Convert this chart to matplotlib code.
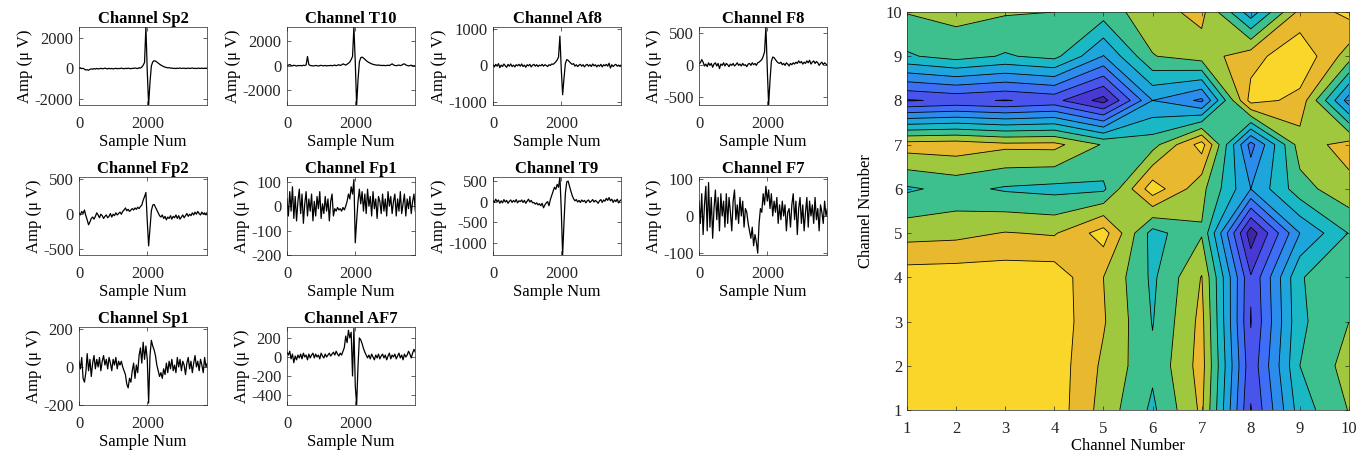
import matplotlib
matplotlib.use("Agg")
import matplotlib.pyplot as plt
import numpy as np

plt.rcParams['font.family'] = ['Liberation Serif', 'DejaVu Serif']
plt.rcParams['font.size'] = 12
plt.rcParams['axes.unicode_minus'] = False

# EEG traces, one value every 40 samples (uV)
sample_step = 40
channel_names = ['Sp2', 'T10', 'Af8', 'F8', 'Fp2', 'Fp1', 'T9', 'F7', 'Sp1', 'AF7']

sp2 = [10, 30, -20, 0, -60, -110, -90, -130, -70, -40,
       -60, -20, -50, -10, -40, -30, 0, -30, -20, 10,
       -20, -40, 0, -30, -10, -40, -20, 0, -30, -10,
       -20, 10, -10, -30, 0, -20, 10, -10, -30, 0,
       -10, 20, 0, -20, 40, 10, 80, 200, 380, 2700,
       -200, -2400, -900, 150, 420, 500, 470, 410, 340, 270,
       210, 160, 110, 80, 50, 30, 40, 10, 20, -10,
       0, -20, 10, -10, 20, -10, 0, 10, -20, 0,
       10, -10, 0, 20, -10, 0, -20, 10, 0, -10,
       10, -10, 0, 10, -10]
t10 = [0, 40, 100, 20, -20, 40, 10, -30, 20, 0,
       20, -10, 40, 10, 60, 750, 80, 20, 0, -20,
       -10, 20, 0, -30, 10, 30, -10, 0, 20, -20,
       10, 0, 30, -10, 20, 50, 0, 40, 80, 20,
       60, 150, 100, 50, 120, 200, 300, 500, 750, 3150,
       300, -3200, -1200, 300, 650, 700, 620, 520, 420, 330,
       260, 200, 150, 110, 80, 60, 40, 60, 20, 30,
       10, 30, 0, 20, 40, 10, 80, 150, 60, 20,
       0, 30, 50, 10, 40, 120, 150, 60, 20, -20,
       10, 40, 0, -30, 20]
af8 = [20, -40, 30, -20, 50, -60, 10, -30, 40, -10,
       -50, 30, -20, 40, -30, 10, -40, 20, -10, 30,
       -20, 40, -30, 10, -50, 20, -10, 30, -40, 10,
       30, -20, 20, -30, 10, -10, 30, -20, 20, 0,
       -30, 20, 0, 40, 30, 60, 100, 150, 230, 800,
       -100, -800, -350, 50, 160, 140, 100, 60, 30, 50,
       -20, 20, -30, 10, 30, -20, 20, -40, 10, 30,
       -20, 20, -30, 40, -10, 20, -40, 10, -20, 30,
       -40, 20, -10, 30, -20, 60, -70, 20, -30, 10,
       30, -20, 10, -30, 20]
f8 = [20, 30, 80, 40, -20, 10, -30, 30, -10, 20,
      -40, 10, 30, -20, 20, -60, 10, -10, 30, -20,
      20, 0, -30, 10, -10, 20, -20, 0, 30, -10,
      10, -20, 20, -10, 0, -30, 10, 20, -10, 30,
      0, 20, -10, 30, 40, 60, 80, 130, 200, 590,
      -60, -630, -250, 50, 120, 110, 80, 50, 30, 20,
      40, 0, 20, -10, 30, 10, -20, 20, 0, 30,
      10, 40, 20, 60, 30, 50, 10, 40, 20, 60,
      30, 70, 10, 40, 60, 20, 50, 30, -10, 20,
      40, 0, 30, 10, -10]
fp2 = [20, -10, 40, 10, 60, -20, -80, -150, -110, -60,
       -40, -70, -30, 20, -10, -50, 0, -20, -60, -30,
       -10, -50, -30, 10, -40, 0, -20, 20, -10, 10,
       30, 0, 40, 60, 90, 50, 70, 40, 60, 80,
       60, 90, 70, 100, 80, 110, 130, 200, 250, 310,
       -100, -450, -200, 50, 130, 140, 100, 60, 20, -20,
       -40, -10, -60, -30, -80, -40, -60, -20, -70, -30,
       -50, -10, -60, -20, -70, -40, -10, -50, -20, 10,
       -30, 0, -20, 20, -10, 30, 0, 40, 10, -10,
       30, 0, 20, -10, 30]
fp1 = [30, -40, 60, -20, 80, -50, 40, -60, 20, 70,
       -30, 50, -70, 10, 60, -40, 30, -20, 50, -60,
       20, -40, 40, -10, 60, -50, 10, -30, 40, -20,
       30, -60, 20, 50, -40, -10, -20, -5, -15, -10,
       -20, -5, -15, 0, 20, 50, 30, 80, 50, 110,
       -150, -60, 20, 70, 10, 60, -20, 50, -30, 70,
       0, 40, -40, 60, -10, 30, -50, 40, 20, -30,
       50, -20, 30, -40, 60, 0, 40, -30, 20, 50,
       -40, 30, -20, 60, -30, 10, 50, -40, 30, -10,
       40, -30, 20, 50, -20]
t9 = [30, -20, 60, 0, 40, -40, 20, -30, 50, -10,
      30, -40, 10, 40, -20, 30, -10, 50, -30, 20,
      0, 40, -20, 30, -40, 10, 60, -10, 30, -30,
      -20, -60, -30, -80, -50, -100, -40, -150, -80, -30,
      0, -100, 50, 150, 250, 350, 300, 420, 350, 600,
      -200, -1300, -500, 200, 480, 500, 380, 260, 150, 70,
      20, 50, -10, 30, -20, 40, 0, 30, -30, 20,
      40, -20, 10, 50, -10, 30, 0, -40, 20, 50,
      -20, 40, 10, 80, 30, 100, 20, 60, -20, 40,
      0, 60, -30, 20, 50]
f7 = [40, -20, 60, -50, 30, 80, -40, 90, -30, 50,
      -60, 20, 70, -10, 50, -40, 60, 0, 40, -30,
      60, -20, 50, 10, -40, 40, 70, -10, 30, -20,
      50, 0, 40, -30, 20, 10, -20, -40, -60, -30,
      -80, -50, -70, -100, -20, 20, 10, 60, 30, 80,
      40, 70, 20, 60, 0, 40, 10, 50, -20, 30,
      -10, 40, 0, 30, -40, 10, 20, -30, 30, 60,
      -10, 40, -50, 20, 50, -20, 30, -40, 10, 50,
      -30, 40, 0, 30, -20, 50, -10, 20, -40, 30,
      10, -20, 40, 0, 20]
sp1 = [30, -10, 50, -60, -80, -30, 70, -20, 40, -50,
       20, 60, -10, 40, 0, 50, -20, 30, 60, 10,
       40, -10, 50, 20, -20, 40, 10, 50, -10, 30,
       10, 30, 0, -20, -40, -90, -110, -60, -80, -20,
       20, -60, 10, -30, 60, 100, 20, 130, 40, 110,
       40, -190, 60, 140, 110, 90, 60, 10, -20, -50,
       -30, -60, -10, -40, 20, -30, 30, -10, 40, -20,
       10, -30, 50, 0, 40, -20, 30, 10, -40, 20,
       50, -10, 30, -30, 20, 60, 0, 30, -20, 40,
       10, -30, 50, 0, 20]
af7 = [50, 20, 60, -20, 30, -60, 10, -30, 20, -10,
       30, -20, 40, 0, 20, -30, 30, -10, 20, 40,
       -10, 30, 0, 20, -20, 40, 10, -10, 30, 0,
       20, 40, 10, 30, 50, 20, 60, 30, 10, 40,
       20, 60, 100, 220, 150, 280, 200, 260, -200, 300,
       -300, -505, -100, 200, 180, 140, 90, 50, 20, -10,
       20, -20, 30, 0, -30, 20, -10, 30, -20, 10,
       30, -10, 20, -30, 10, 40, -20, 20, 0, 30,
       -20, 10, 40, -10, 20, -30, 30, 0, 20, 60,
       30, -10, 40, 80, 50]
traces = [sp2, t10, af8, f8, fp2, fp1, t9, f7, sp1, af7]

y_limits = [(-2400, 2700), (-3200, 3150), (-1080, 1050), (-630, 590), (-580, 530),
            (-200, 120), (-1300, 600), (-105, 105), (-200, 210), (-505, 315)]
y_ticks = [[-2000, 0, 2000], [-2000, 0, 2000], [-1000, 0, 1000], [-500, 0, 500],
           [-500, 0, 500], [-200, -100, 0, 100], [-1000, -500, 0, 500],
           [-100, 0, 100], [-200, 0, 200], [-400, -200, 0, 200]]

# channel-by-channel map, rows are y = 1..10
chan_idx = list(range(1, 11))
map_rows = [
    [10.6, 10.6, 10.6, 10.6, 8.6, 6.8, 9.2, 1.95, 6.5, 8.05],
    [10.6, 10.6, 10.6, 10.6, 8.8, 7.2, 9.4, 2.3, 7.0, 8.4],
    [10.6, 10.6, 10.6, 10.6, 9.1, 6.95, 9.3, 1.95, 6.8, 8.0],
    [10.55, 10.6, 10.6, 10.6, 9.0, 6.8, 9.05, 2.1, 6.9, 8.0],
    [8.6, 8.7, 9.05, 8.9, 10.45, 6.6, 7.9, 0.4, 5.0, 7.05],
    [6.85, 7.3, 6.87, 6.7, 6.8, 10.6, 8.3, 5.0, 7.6, 8.7],
    [9.5, 9.6, 9.25, 9.3, 7.9, 7.6, 10.45, 3.6, 8.5, 9.4],
    [1.9, 2.2, 1.95, 2.3, 0.6, 5.0, 3.8, 10.4, 9.7, 4.5],
    [6.87, 7.4, 6.9, 7.3, 4.95, 7.95, 8.5, 9.6, 10.8, 8.5],
    [8.05, 8.3, 8.1, 8.0, 7.5, 8.6, 9.3, 5.4, 9.3, 10.3],
]
band_edges = list(range(0, 12))
band_colors = ['#3e28a0', '#4838d4', '#4854ec', '#3e6ef6', '#2c8cec', '#1ea5dc',
               '#1ab8c4', '#3ec08e', '#a0c83e', '#e8b82e', '#fad62a']

W, H = 1372, 459
fig = plt.figure(figsize=(W / 100, H / 100), dpi=100)


def px_axes(left, top, right, bottom):
    return fig.add_axes([left / W, 1 - bottom / H, (right - left) / W, (bottom - top) / H])


def style(ax):
    ax.tick_params(direction='in', top=True, right=True, length=3, width=0.5,
                   colors='#262626', labelsize=12)
    for s in ax.spines.values():
        s.set_linewidth(0.5)
        s.set_color('#262626')


col_left = [79, 287, 493, 699]
row_top = [27, 177, 327]
for i, (name, vals) in enumerate(zip(channel_names, traces)):
    r, c = divmod(i, 4)
    ax = px_axes(col_left[c], row_top[r], col_left[c] + 128, row_top[r] + 78)
    x = np.arange(len(vals)) * sample_step
    ax.plot(x, vals, color='k', lw=0.9)
    ax.set_xlim(0, 3750)
    ax.set_ylim(*y_limits[i])
    ax.set_xticks([0, 2000])
    ax.set_yticks(y_ticks[i])
    style(ax)
    ax.tick_params(axis='x', pad=8)
    ax.tick_params(axis='y', pad=4)
    ax.set_title(f'Channel {name}', fontweight='bold', fontsize=12, pad=3)
    ax.set_xlabel('Sample Num', labelpad=1)
    ax.set_ylabel('Amp (\u03bc V)', labelpad=1)

ax = px_axes(907, 12, 1349, 410)
X, Y = np.meshgrid(chan_idx, chan_idx)
Z = np.array(map_rows)
ax.contourf(X, Y, Z, levels=band_edges, colors=band_colors)
ax.contour(X, Y, Z, levels=band_edges[1:-1], colors='k', linewidths=0.6)
ax.set_xticks(chan_idx)
ax.set_yticks(chan_idx)
style(ax)
ax.tick_params(axis='x', pad=8)
ax.set_xlabel('Channel Number', labelpad=1)
ax.set_ylabel('Channel Number', labelpad=8)

fig.savefig('out.png', dpi=100)
